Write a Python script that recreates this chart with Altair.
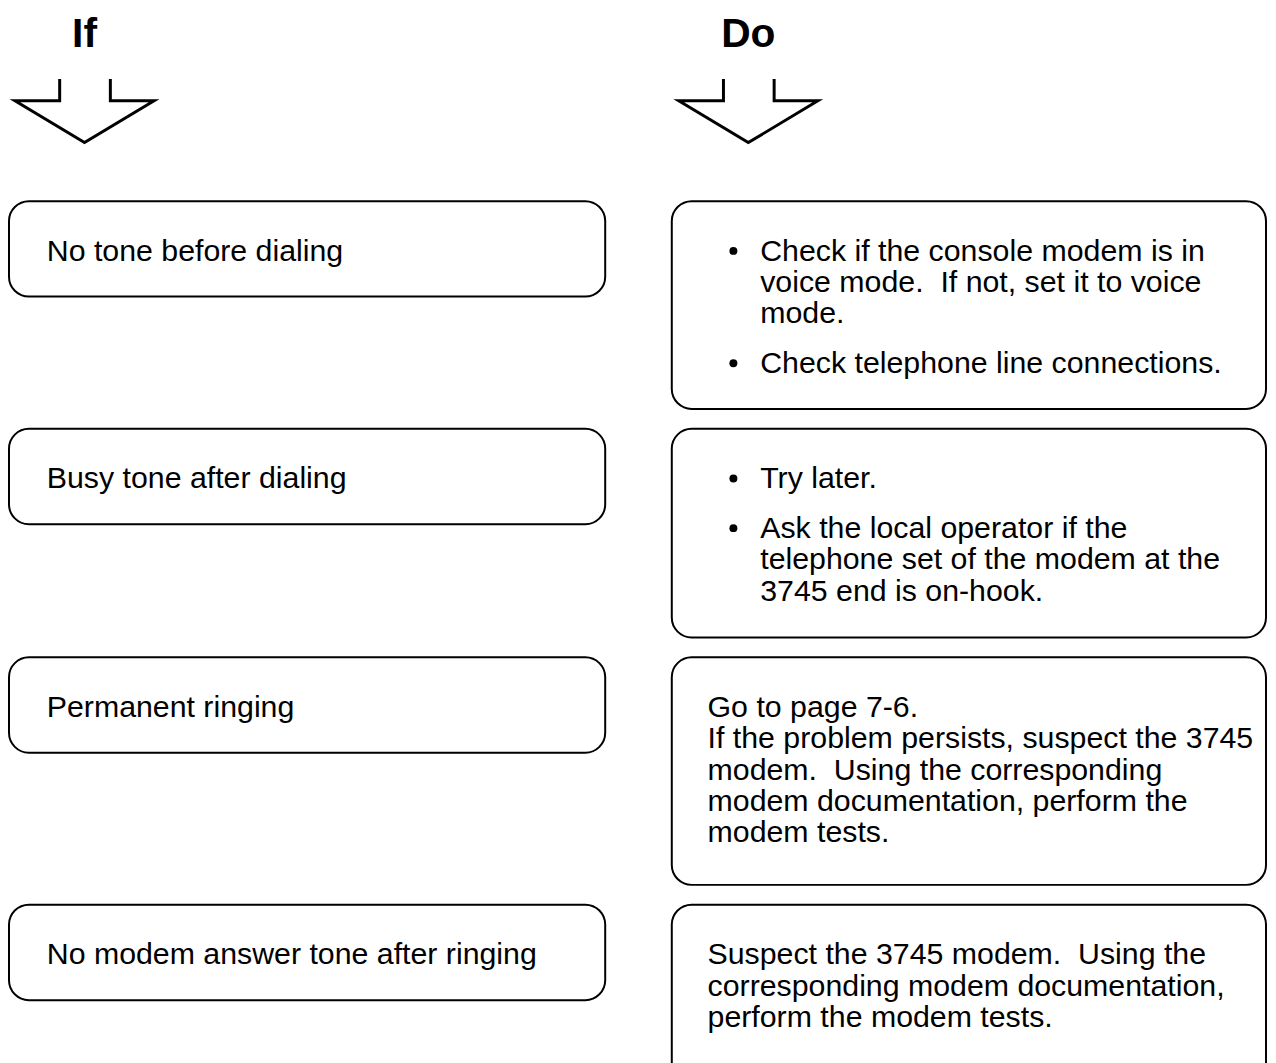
import altair as alt
import pandas as pd

# ---- content ----
titles = ["If", "Do"]
conditions = [
    "No tone before dialing",
    "Busy tone after dialing",
    "Permanent ringing",
    "No modem answer tone after ringing",
]
NB = "\u00a0 "
actions = [
    [("bullet", ["Check if the console modem is in",
                 "voice mode." + NB + "If not, set it to voice",
                 "mode."]),
     ("bullet", ["Check telephone line connections."])],
    [("bullet", ["Try later."]),
     ("bullet", ["Ask the local operator if the",
                 "telephone set of the modem at the",
                 "3745 end is on-hook."])],
    [("plain", ["Go to page 7-6.",
                "If the problem persists, suspect the 3745",
                "modem." + NB + "Using the corresponding",
                "modem documentation, perform the",
                "modem tests."])],
    [("plain", ["Suspect the 3745 modem." + NB + "Using the",
                "corresponding modem documentation,",
                "perform the modem tests."])],
]

# ---- layout (page pixel units) ----
W, H = 1266, 1045
row_tops = [199, 428, 658, 907]
left_h = 96
right_bottoms = [408, 638, 887, 1090]
left_x0, left_x1 = 7, 607
right_x0, right_x1 = 674, 1272
pad_top = 60
line_h = 31.5
para_gap = 18.5
left_text_x = 45
plain_text_x = 710
bullet_x = 736
bullet_dy = 10
bullet_text_x = 763
title_x = [83, 751]
title_y = 44
arrow_centers = [83, 751]

# boxes
box_rows = []
for i, top in enumerate(row_tops):
    box_rows.append(dict(x=left_x0, x2=left_x1, y=top, y2=top + left_h))
    box_rows.append(dict(x=right_x0, x2=right_x1, y=top, y2=right_bottoms[i]))
boxes = pd.DataFrame(box_rows)

# text lines and bullets
text_rows = []
bullet_rows = []
for i, top in enumerate(row_tops):
    text_rows.append(dict(x=left_text_x, y=top + pad_top, t=conditions[i]))
    yy = top + pad_top
    for p, (kind, lines) in enumerate(actions[i]):
        if p > 0:
            yy += para_gap
        for j, ln in enumerate(lines):
            if kind == "bullet":
                if j == 0:
                    bullet_rows.append(dict(x=bullet_x, y=yy - bullet_dy))
                text_rows.append(dict(x=bullet_text_x, y=yy, t=ln))
            else:
                text_rows.append(dict(x=plain_text_x, y=yy, t=ln))
            yy += line_h
texts = pd.DataFrame(text_rows)
bullets = pd.DataFrame(bullet_rows)

titles_df = pd.DataFrame(dict(x=title_x, y=[title_y, title_y], t=titles))

# arrows (open-top block arrows)
arrow_shape = [(-25, 76), (-25, 98), (-70, 98), (0, 140), (70, 98), (26, 98), (26, 76)]
arrow_rows = []
for k, cx in enumerate(arrow_centers):
    for i, (dx, yv) in enumerate(arrow_shape):
        arrow_rows.append(dict(arrow=k, i=i, x=cx + dx, y=yv))
arrows = pd.DataFrame(arrow_rows)

xs = alt.Scale(domain=[8, 8 + W], nice=False, zero=False)
ys = alt.Scale(domain=[8, 8 + H], nice=False, zero=False, reverse=True)

box_layer = alt.Chart(boxes).mark_rect(
    cornerRadius=20, fill="white", stroke="black", strokeWidth=2
).encode(
    x=alt.X("x:Q", scale=xs, axis=None),
    x2="x2:Q",
    y=alt.Y("y:Q", scale=ys, axis=None),
    y2="y2:Q",
)

arrow_layer = alt.Chart(arrows).mark_line(
    color="black", strokeWidth=3, strokeJoin="miter"
).encode(
    x=alt.X("x:Q", scale=xs, axis=None),
    y=alt.Y("y:Q", scale=ys, axis=None),
    detail="arrow:N",
    order="i:Q",
)

font = "Liberation Sans"
text_layer = alt.Chart(texts).mark_text(
    align="left", baseline="alphabetic", font=font, fontSize=30.5, color="black"
).encode(
    x=alt.X("x:Q", scale=xs, axis=None),
    y=alt.Y("y:Q", scale=ys, axis=None),
    text="t:N",
)

bullet_layer = alt.Chart(bullets).mark_circle(
    size=64, color="black", opacity=1
).encode(
    x=alt.X("x:Q", scale=xs, axis=None),
    y=alt.Y("y:Q", scale=ys, axis=None),
)

title_layer = alt.Chart(titles_df).mark_text(
    align="center", baseline="alphabetic", font=font, fontSize=41,
    fontWeight="bold", color="black"
).encode(
    x=alt.X("x:Q", scale=xs, axis=None),
    y=alt.Y("y:Q", scale=ys, axis=None),
    text="t:N",
)

chart = alt.layer(
    box_layer, arrow_layer, text_layer, bullet_layer, title_layer
).properties(
    width=W, height=H, padding=0, background="white"
).configure_view(stroke=None)

chart.save("out.html", embed_options={"renderer": "svg", "actions": False})
